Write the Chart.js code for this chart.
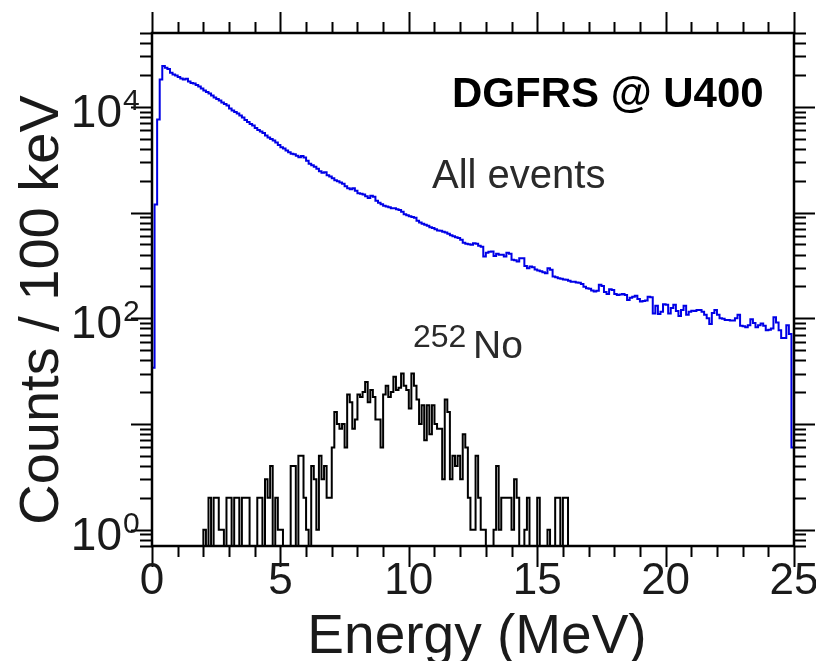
<!DOCTYPE html>
<html>
<head>
<meta charset="utf-8">
<script src="https://cdn.jsdelivr.net/npm/chart.js@4.4.1/dist/chart.umd.min.js"></script>
<style>
  html, body { margin: 0; padding: 0; background: #fff; }
  #wrap { width: 816px; height: 661px; }
</style>
</head>
<body>
<div id="wrap"><canvas id="spectrumChart" width="816" height="661"></canvas></div>
<script>
// Energy spectra, 100 keV bins
const binWidthMeV = 0.1;

// All events, bins 0.0 .. 25.0 MeV (250 bins)
const allEventsCounts = [
    34, 1190, 7600, 18200, 24300, 23400, 22800, 21000, 20200, 19800,
    19150, 18540, 18150, 18500, 17380, 16820, 16640, 16110, 15580, 14910,
    14280, 13810, 13370, 12800, 12250, 11860, 11480, 10990, 10640, 10290,
    9640, 9230, 8930, 8640, 8270, 7920, 7500, 7180, 6880, 6660,
    6300, 6030, 5840, 5650, 5350, 5120, 4960, 4800, 4590, 4350,
    4160, 4030, 3860, 3730, 3610, 3570, 3450, 3340, 3420, 3310,
    3100, 2900, 2810, 2720, 2600, 2460, 2380, 2410, 2260, 2190,
    2110, 2020, 1980, 1920, 1870, 1770, 1700, 1660, 1700, 1610,
    1520, 1510, 1480, 1427, 1370, 1442, 1410, 1294, 1239, 1199,
    1160, 1140, 1122, 1100, 1096, 1074, 1060, 1018, 964, 943,
    922, 906, 893, 836, 806, 783, 766, 750, 726, 713,
    695, 676, 672, 658, 648, 630, 610, 596, 583, 573,
    552, 517, 506, 501, 495, 512, 506, 485, 474, 383,
    416, 425, 428, 389, 407, 398, 398, 383, 416, 407,
    357, 353, 344, 370, 370, 313, 298, 309, 303, 290,
    283, 278, 272, 267, 298, 287, 248, 244, 239, 236,
    233, 231, 226, 222, 221, 218, 217, 211, 199, 192,
    190, 183, 179, 182, 207, 202, 177, 170, 188, 185,
    170, 166, 168, 170, 166, 149, 156, 160, 163, 152,
    144, 146, 147, 160, 158, 111, 131, 110, 115, 136,
    134, 111, 125, 134, 117, 105, 120, 131, 108, 115,
    118, 117, 120, 120, 115, 108, 100, 88, 112, 120,
    108, 100, 99, 96, 96, 95, 95, 100, 108, 85,
    84, 82, 86, 98, 90, 82, 86, 89, 85, 77,
    78, 80, 102, 91, 77, 65, 65, 86, 71, 6
];

// 252No, bins from 2.0 MeV up to 16.2 MeV
const no252StartMeV = 2.0;
const no252Counts = [
    1, 0, 2, 0, 2, 2, 1, 1, 0, 2,
    2, 0, 2, 2, 0, 2, 2, 2, 0, 0,
    0, 2, 2, 0, 3, 2, 4, 0, 2, 1,
    1, 0, 0, 0, 4, 4, 0, 5, 5, 2,
    1, 0, 4, 3, 1, 5, 3, 4, 2, 2,
    6, 13, 10, 9, 10, 6, 19, 16, 9, 11,
    19, 18, 20, 25, 16, 21, 18, 11, 11, 6,
    19, 23, 18, 20, 28, 21, 22, 30, 23, 21,
    14, 30, 23, 17, 10, 15, 7, 15, 8, 15,
    10, 9, 9, 3, 17, 13, 3, 5, 4, 5,
    3, 8, 6, 2, 1, 1, 5, 2, 1, 1,
    0, 0, 0, 1, 4, 1, 2, 2, 2, 2,
    1, 3, 2, 0, 0, 1, 2, 0, 0, 0,
    2, 0, 0, 0, 1, 0, 0, 2, 2, 0,
    2, 2
];

// axes
const xTickLabels = [0, 5, 10, 15, 20, 25];
const yLabelExponents = [0, 2, 4];
const yMin = 0.7;
const yMax = 50000;
const belowAxis = 0.3; // empty bins are drawn below the axis and clipped

const fontFamily = '"Liberation Sans", Arial, Helvetica, sans-serif';

// turn bin counts into left-edge points for a stepped line
function histogramPoints(counts, startMeV, fromAxis) {
    const pts = [];
    if (fromAxis) pts.push({ x: startMeV, y: belowAxis });
    counts.forEach((c, i) => {
        pts.push({ x: startMeV + i * binWidthMeV, y: c > 0 ? c : belowAxis });
    });
    const endMeV = startMeV + counts.length * binWidthMeV;
    const last = counts[counts.length - 1];
    pts.push({ x: endMeV, y: last > 0 ? last : belowAxis });
    if (fromAxis) pts.push({ x: endMeV, y: belowAxis });
    return pts;
}

// frame, ticks, labels and texts
const framePlugin = {
    id: 'frame',
    afterDatasetsDraw(chart) {
        const ctx = chart.ctx;
        const { left, right, top, bottom } = chart.chartArea;
        const xs = chart.scales.x;
        const ys = chart.scales.y;
        const majorLen = 21, minorLen = 11;

        ctx.save();
        ctx.strokeStyle = '#000';
        ctx.lineWidth = 2;

        // x ticks every 1 MeV, top and bottom, outward
        for (let e = 0; e <= 25; e++) {
            const px = Math.round(xs.getPixelForValue(e)) + 0.5;
            const len = e % 5 === 0 ? majorLen : minorLen;
            ctx.beginPath();
            ctx.moveTo(px, bottom); ctx.lineTo(px, bottom + len);
            ctx.moveTo(px, top); ctx.lineTo(px, top - len);
            ctx.stroke();
        }

        // y ticks 1..9 x 10^n, left and right, outward
        for (let d = -1; d <= 4; d++) {
            for (let m = 1; m <= 9; m++) {
                const v = m * Math.pow(10, d);
                if (v < yMin * 0.999 || v > yMax * 1.001) continue;
                const py = Math.round(ys.getPixelForValue(v)) + 0.5;
                const len = m === 1 ? majorLen : minorLen + 1;
                ctx.beginPath();
                ctx.moveTo(left, py); ctx.lineTo(left - len, py);
                ctx.moveTo(right, py); ctx.lineTo(right + len, py);
                ctx.stroke();
            }
        }

        // box
        ctx.lineWidth = 2.5;
        ctx.strokeRect(left, top, right - left, bottom - top);

        // x tick labels
        ctx.fillStyle = '#1a1a1a';
        ctx.textAlign = 'center';
        ctx.textBaseline = 'alphabetic';
        ctx.font = '44px ' + fontFamily;
        xTickLabels.forEach(v => {
            ctx.fillText(String(v), xs.getPixelForValue(v), 594);
        });

        // y tick labels 10^n
        yLabelExponents.forEach(e => {
            const py = ys.getPixelForValue(Math.pow(10, e));
            ctx.font = '46px ' + fontFamily;
            ctx.textAlign = 'right';
            ctx.fillText('10', 122, py + 20);
            ctx.font = '30px ' + fontFamily;
            ctx.textAlign = 'left';
            ctx.fillText(String(e), 123, py + 3);
        });

        // axis titles
        ctx.font = '55px ' + fontFamily;
        ctx.textAlign = 'center';
        ctx.fillText('Energy (MeV)', 477, 653);
        ctx.save();
        ctx.translate(58, 310);
        ctx.rotate(-Math.PI / 2);
        ctx.font = '56px ' + fontFamily;
        ctx.fillText('Counts / 100 keV', 0, 0);
        ctx.restore();

        // annotations
        ctx.fillStyle = '#000';
        ctx.textAlign = 'left';
        ctx.font = 'bold 42px ' + fontFamily;
        ctx.fillText('DGFRS @ U400', 452, 107);
        ctx.fillStyle = '#2a2a2a';
        ctx.font = '40px ' + fontFamily;
        ctx.fillText('All events', 432, 188);
        ctx.font = '32px ' + fontFamily;
        ctx.fillText('252', 413, 347);
        ctx.font = '39px ' + fontFamily;
        ctx.fillText('No', 473, 358);

        ctx.restore();
    }
};

const ctx = document.getElementById('spectrumChart').getContext('2d');
const spectrumChart = new Chart(ctx, {
    type: 'line',
    data: {
        datasets: [
            {
                label: 'All events',
                data: histogramPoints(allEventsCounts, 0, false),
                borderColor: '#0000e6',
                borderWidth: 2,
                stepped: true,
                pointRadius: 0,
                fill: false
            },
            {
                label: '252No',
                data: histogramPoints(no252Counts, no252StartMeV, true),
                borderColor: '#000000',
                borderWidth: 2,
                stepped: true,
                pointRadius: 0,
                fill: false
            }
        ]
    },
    options: {
        responsive: false,
        animation: false,
        devicePixelRatio: 1,
        layout: {
            padding: { left: 152, right: 22, top: 33, bottom: 115 }
        },
        scales: {
            x: {
                type: 'linear',
                min: 0,
                max: 25,
                display: false
            },
            y: {
                type: 'logarithmic',
                min: yMin,
                max: yMax,
                display: false
            }
        },
        plugins: {
            legend: { display: false },
            tooltip: { enabled: false }
        }
    },
    plugins: [framePlugin]
});
</script>
</body>
</html>
